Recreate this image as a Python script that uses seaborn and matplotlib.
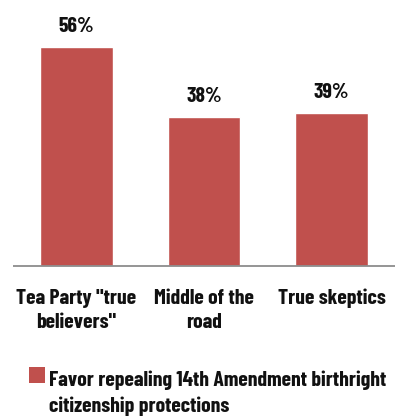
import matplotlib
matplotlib.use("Agg")
import matplotlib.pyplot as plt
import seaborn as sns
import pandas as pd
from matplotlib.patches import Patch, Rectangle
from matplotlib.legend_handler import HandlerPatch

categories = ['Tea Party "true\nbelievers"', "Middle of the\nroad", "True skeptics"]
values = [56, 38, 39]
series_name = "Favor repealing 14th Amendment birthright\ncitizenship protections"
value_labels = ["56%", "38%", "39%"]

bar_color = "#C0504D"
FONT = ["Barlow Condensed", "Fira Sans Extra Condensed", "DejaVu Sans"]
FS = 15.6
LS = 1.37
WEIGHT = "bold"

sns.set_theme(style="white")
plt.rcParams["font.family"] = FONT

df = pd.DataFrame({"cat": categories, "val": values})

fig = plt.figure(figsize=(4.06, 4.18), dpi=100)
ax = fig.add_axes([0.0, 1 - 266 / 418, 1.0, 266 / 418])

sns.barplot(data=df, x="cat", y="val", color=bar_color, saturation=1,
            width=0.57, ax=ax)

ax.set_xlim(-0.5 - 12.75 / 127.5, 2.5 + (406 - 395.25) / 127.5)
ax.set_ylim(0, 266 / 3.916)

for sp in ["top", "right", "left", "bottom"]:
    ax.spines[sp].set_visible(False)
ax.plot([-0.5, 2.5], [0, 0], color="#8C8C8C", lw=1.3, clip_on=False,
        solid_capstyle="butt")

ax.set_yticks([])
ax.set_xlabel("")
ax.set_ylabel("")
ax.tick_params(axis="x", length=0, pad=16.5)
for lbl in ax.get_xticklabels():
    lbl.set_fontsize(FS)
    lbl.set_fontweight(WEIGHT)
    lbl.set_color("#111111")
    lbl.set_linespacing(LS)

for i, (v, t) in enumerate(zip(values, value_labels)):
    ax.annotate(t, (i, v), xytext=(0, 10.8), textcoords="offset points",
                ha="center", va="baseline", fontsize=FS, fontweight=WEIGHT,
                color="#111111")


def top_square(legend, orig_handle, xdescent, ydescent, width, height, fontsize):
    # square sitting on the baseline of the first text line
    return Rectangle(xy=(-xdescent, 13.0), width=width, height=width)


handle = Patch(facecolor=bar_color, edgecolor="none")
leg = fig.legend([handle], [series_name], loc="upper left",
                 bbox_to_anchor=(29 / 406, 1 - 371 / 418), frameon=False,
                 prop={"size": FS, "weight": WEIGHT},
                 handlelength=0.72, handleheight=0.72, handletextpad=0.2,
                 borderaxespad=0, borderpad=0,
                 handler_map={Patch: HandlerPatch(patch_func=top_square)})
for t in leg.get_texts():
    t.set_color("#111111")
    t.set_linespacing(LS)

fig.savefig("out.png", dpi=100)
